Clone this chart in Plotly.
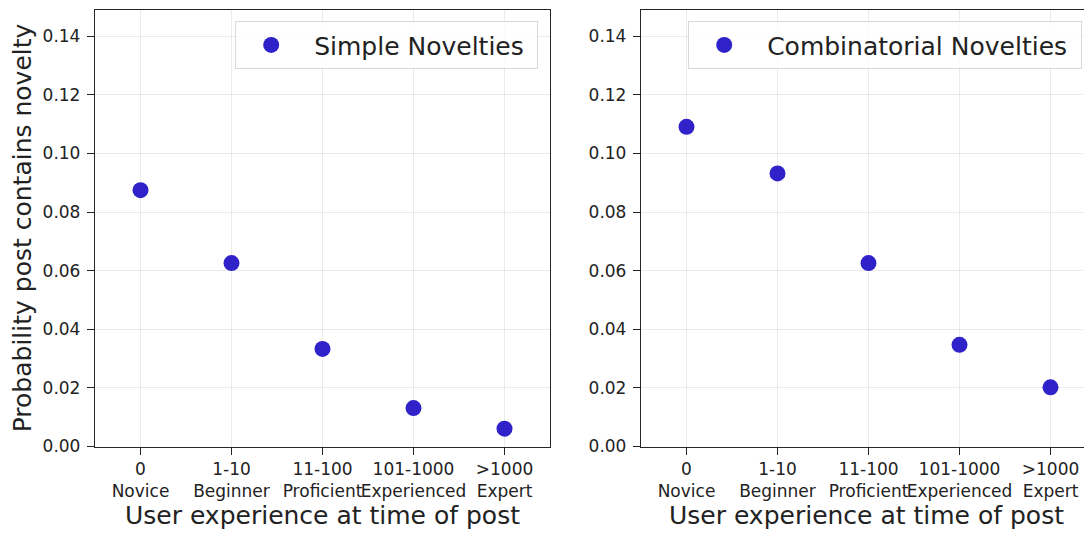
import plotly.graph_objects as go

categories = ["0<br>Novice", "1-10<br>Beginner", "11-100<br>Proficient", "101-1000<br>Experienced", ">1000<br>Expert"]
simple_vals = [0.0875, 0.0626, 0.0333, 0.0131, 0.0061]
combo_vals = [0.1091, 0.0932, 0.0626, 0.0347, 0.0202]
y_ticks = [0.00, 0.02, 0.04, 0.06, 0.08, 0.10, 0.12, 0.14]
y_ticklabels = ["0.00", "0.02", "0.04", "0.06", "0.08", "0.10", "0.12", "0.14"]

# page body adds an 8px margin; lay out in reference pixel coordinates minus that
O = 8
VW, VH = 1092, 533
W, H = VW - O, VH - O
FONT = "DejaVu Sans"
MARK = "rgb(46,34,200)"
GRID = "rgba(0,0,0,0.08)"
SPINE = "#262626"
PX_PER_UNIT_Y = (446.5 - 7) / 0.15

xpos = list(range(len(categories)))

fig = go.Figure()
fig.add_trace(go.Scatter(x=xpos, y=simple_vals, mode="markers", name="\u00a0Simple Novelties\u00a0",
                         marker=dict(size=16, color=MARK, line=dict(width=0)),
                         xaxis="x", yaxis="y", legend="legend"))
fig.add_trace(go.Scatter(x=xpos, y=combo_vals, mode="markers", name="\u00a0Combinatorial Novelties\u00a0",
                         marker=dict(size=16, color=MARK, line=dict(width=0)),
                         xaxis="x2", yaxis="y2", legend="legend2"))

TOP_PX = 1.5  # plot-area top inside the figure, so the top spine stays visible
ybot = (H - (446.5 - O)) / H
ytop = (H - TOP_PX) / H
ytop_val = 0.15 - (O + TOP_PX - 7) / PX_PER_UNIT_Y

common_x = dict(tickmode="array", tickvals=xpos, ticktext=categories, tickangle=0,
                showgrid=True, gridcolor=GRID, gridwidth=1,
                showline=True, linecolor=SPINE, linewidth=1.3,
                ticks="outside", ticklen=7, tickcolor=SPINE, tickwidth=1.2,
                tickfont=dict(family=FONT, size=17, color="#222"),
                zeroline=False, automargin=False,
                title=dict(text="User experience at time of post", font=dict(family=FONT, size=25, color="#222"), standoff=6))
common_y = dict(range=[0, ytop_val], tickmode="array", tickvals=y_ticks, ticktext=y_ticklabels,
                showgrid=True, gridcolor=GRID, gridwidth=1,
                showline=True, linecolor=SPINE, linewidth=1.3,
                ticks="outside", ticklen=7, tickcolor=SPINE, tickwidth=1.2,
                tickfont=dict(family=FONT, size=17, color="#222"), ticklabelstandoff=3,
                zeroline=False, automargin=False)

legend_common = dict(yanchor="top", xanchor="right", itemwidth=60,
                     bgcolor="rgba(255,255,255,0.8)", bordercolor="#d9d9d9", borderwidth=1.2,
                     font=dict(family=FONT, size=25, color="#222"))

fig.update_layout(
    width=W, height=H,
    margin=dict(l=0, r=0, t=0, b=0, autoexpand=False),
    paper_bgcolor="white", plot_bgcolor="white",
    font=dict(family=FONT, color="#222"),
    xaxis=dict(domain=[(95 - O) / W, (550 - O) / W], range=[-0.5, 4.5], mirror=True, anchor="y", **common_x),
    yaxis=dict(domain=[ybot, ytop], mirror=True, anchor="x",
               title=dict(text="Probability post contains novelty", font=dict(family=FONT, size=25, color="#222"), standoff=8),
               **common_y),
    xaxis2=dict(domain=[(641 - O) / W, 1.0], range=[-0.5, -0.5 + (VW - 641) / 91.0], mirror=True, anchor="y2", **common_x),
    yaxis2=dict(domain=[ybot, ytop], mirror=False, anchor="x2", **common_y),
    legend=dict(x=(538 - O) / W, y=(H - (21 - O)) / H, **legend_common),
    legend2=dict(x=(1082 - O) / W, y=(H - (21 - O)) / H, **legend_common),
    showlegend=True,
)

fig.write_html("out.html")
